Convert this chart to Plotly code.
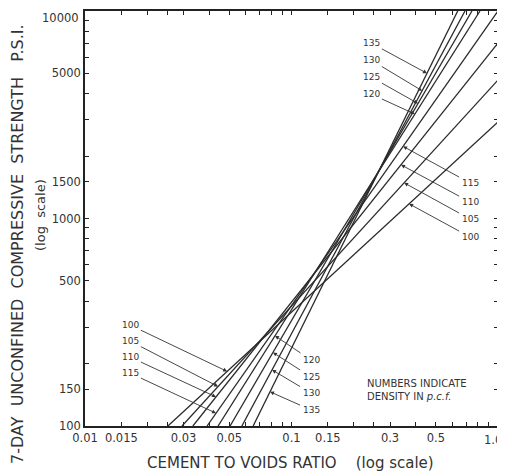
import math
import plotly.graph_objects as go

# ---- data ----
densities = [100, 105, 110, 115, 120, 125, 130, 135]
x_at_100psi = [0.0252, 0.0295, 0.0333, 0.0390, 0.0441, 0.0504, 0.0575, 0.0652]
x_end = [1.0, 1.0, 1.0, 1.0, 0.818, 0.748, 0.692, 0.638]
y_end = [2920, 4650, 7010, 10000, 10000, 10000, 10000, 10000]

x_tickvals = [0.01, 0.015, 0.02, 0.025, 0.03, 0.04, 0.05, 0.06, 0.07, 0.08, 0.09,
              0.1, 0.15, 0.2, 0.25, 0.3, 0.4, 0.5, 0.6, 0.7, 0.8, 0.9, 1.0]
x_labeled = {0.01: "0.01", 0.015: "0.015", 0.03: "0.03", 0.05: "0.05", 0.1: "0.1",
             0.15: "0.15", 0.3: "0.3", 0.5: "0.5", 1.0: "1.0"}
y_tickvals = [100, 150, 200, 300, 400, 500, 600, 700, 800, 900, 1000, 1500, 2000,
              3000, 4000, 5000, 6000, 7000, 8000, 9000, 10000]
y_labeled = {100: "100", 150: "150", 500: "500", 1000: "1000", 1500: "1500",
             5000: "5000", 10000: "10000"}
edge_x_label = 1.0      # drawn as an annotation so it stays inside the page
edge_y_label = 10000

# label groups: (density, tip x on the line, label pixel position in the reference)
label_groups = [
    # lower-left
    (100, 0.0488, (130, 325)), (105, 0.0441, (130, 341)),
    (110, 0.0431, (130, 357)), (115, 0.0431, (130, 373)),
    # lower-right
    (120, 0.0832, (311, 360)), (125, 0.0813, (311, 377)),
    (130, 0.0805, (311, 393)), (135, 0.0787, (311, 410)),
    # upper-right
    (135, 0.453, (371, 43)), (130, 0.429, (371, 60)),
    (125, 0.410, (371, 77)), (120, 0.396, (371, 94)),
    # right-middle
    (115, 0.347, (470, 183)), (110, 0.339, (470, 202)),
    (105, 0.351, (470, 219)), (100, 0.371, (470, 237)),
]

# ---- layout geometry (page has an 8px body offset) ----
OFF = 8
W, H = 505 - OFF, 476 - OFF
PL, PT, PW, PH = 85, 11, 413, 415          # plot area in page pixels
ML, MT = PL - OFF, PT - OFF
MR, MB = W - ML - PW, H - MT - PH


def px_to_lx(px):
    return -2 + 2 * (px - PL) / PW


def py_to_ly(py):
    return 4 - 2 * (py - PT) / PH


def paper_x(px):
    return (px - PL) / PW


def paper_y(py):
    return 1 - (py - PT) / PH


def line_log_y(i, x):
    lx0, lx1 = math.log10(x_at_100psi[i]), math.log10(x_end[i])
    ly0, ly1 = 2.0, math.log10(y_end[i])
    return ly0 + (ly1 - ly0) * (math.log10(x) - lx0) / (lx1 - lx0)


fig = go.Figure()
for i, d in enumerate(densities):
    fig.add_trace(go.Scatter(
        x=[x_at_100psi[i], x_end[i]], y=[100, y_end[i]], mode="lines",
        line=dict(color="#2a2a2a", width=1.3), name=str(d), showlegend=False,
        hoverinfo="skip", cliponaxis=True))

lab_font = dict(family="DejaVu Sans", size=9, color="#333333")
for d, tipx, (tx, ty) in label_groups:
    i = densities.index(d)
    fig.add_annotation(
        x=math.log10(tipx), y=line_log_y(i, tipx), xref="x", yref="y",
        ax=px_to_lx(tx), ay=py_to_ly(ty), axref="x", ayref="y",
        xanchor="center", yanchor="middle",
        text=str(d), showarrow=True, arrowhead=2, arrowsize=0.9, arrowwidth=0.9,
        arrowcolor="#333333", font=lab_font, standoff=0, startstandoff=1)

fig.add_annotation(
    x=paper_x(365), y=paper_y(376), xref="paper", yref="paper",
    xanchor="left", yanchor="top", align="left", showarrow=False,
    text="NUMBERS INDICATE<br>DENSITY IN <i>p.c.f.</i>",
    font=dict(family="DejaVu Sans", size=10, color="#333333"))

tick_font = dict(family="DejaVu Sans", size=11.5, color="#333333")

# edge tick labels kept inside the page
fig.add_annotation(
    x=math.log10(edge_x_label), y=paper_y(431), xref="x", yref="paper",
    xanchor="right", yanchor="top", showarrow=False, xshift=6,
    text=x_labeled[edge_x_label], font=tick_font)
fig.add_annotation(
    x=paper_x(81), y=math.log10(edge_y_label), xref="paper", yref="y",
    xanchor="right", yanchor="top", showarrow=False, yshift=2,
    text=y_labeled[edge_y_label], font=tick_font)

# axis titles
fig.add_annotation(
    x=paper_x(290), y=paper_y(463), xref="paper", yref="paper", showarrow=False,
    xanchor="center", yanchor="middle",
    text="CEMENT&nbsp;TO&nbsp;VOIDS&nbsp;RATIO&nbsp;&nbsp;&nbsp;&nbsp;(log&nbsp;scale)",
    font=dict(family="DejaVu Sans", size=15, color="#333333"))
fig.add_annotation(
    x=paper_x(17), y=paper_y(244), xref="paper", yref="paper",
    xanchor="center", yanchor="middle", showarrow=False, textangle=-90,
    text=("7-DAY&nbsp;&nbsp;UNCONFINED&nbsp;&nbsp;COMPRESSIVE"
          "&nbsp;&nbsp;STRENGTH&nbsp;&nbsp;&nbsp;P.S.I."),
    font=dict(family="DejaVu Sans", size=16, color="#333333"))
fig.add_annotation(
    x=paper_x(40), y=paper_y(215), xref="paper", yref="paper",
    xanchor="center", yanchor="middle", showarrow=False, textangle=-90,
    text="(log&nbsp;&nbsp;scale)",
    font=dict(family="DejaVu Sans", size=13, color="#333333"))

fig.update_xaxes(
    type="log", range=[-2, 0], tickmode="array", tickvals=x_tickvals,
    ticktext=[x_labeled.get(v, "") if v != edge_x_label else "" for v in x_tickvals],
    ticks="inside", ticklen=4, tickwidth=1, tickcolor="#222222",
    showline=True, linecolor="#222222", linewidth=1.5, mirror="ticks",
    showgrid=False, zeroline=False, tickfont=tick_font,
    ticklabeloverflow="allow")
fig.update_yaxes(
    type="log", range=[2, 4], tickmode="array", tickvals=y_tickvals,
    ticktext=[y_labeled.get(v, "") if v != edge_y_label else "" for v in y_tickvals],
    ticks="inside", ticklen=4, tickwidth=1, tickcolor="#222222",
    showline=True, linecolor="#222222", linewidth=1.5, mirror="ticks",
    showgrid=False, zeroline=False, tickfont=tick_font,
    ticklabeloverflow="allow")

fig.update_layout(
    width=W, height=H, autosize=False,
    margin=dict(l=ML, r=MR, t=MT, b=MB, autoexpand=False),
    paper_bgcolor="white", plot_bgcolor="white", showlegend=False)

fig.write_html("out.html")
